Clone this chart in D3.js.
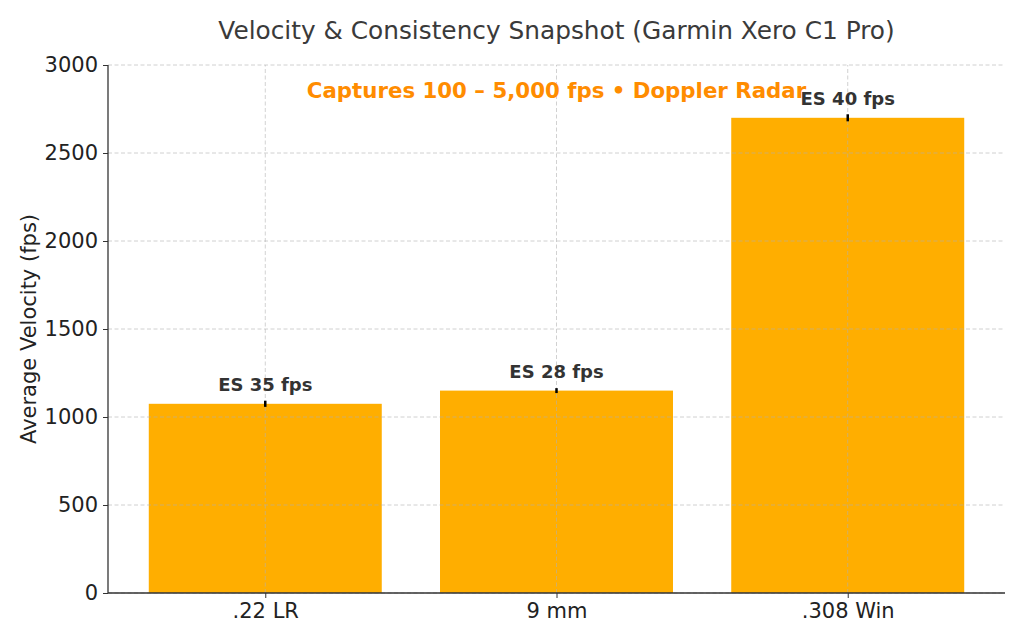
<!DOCTYPE html>
<html>
<head>
<meta charset="utf-8">
<script src="https://cdn.jsdelivr.net/npm/d3@7"></script>
<style>
  body { margin: 0; background: #fff; }
  text { font-family: "DejaVu Sans", sans-serif; }
</style>
</head>
<body>
<script>
// data
var calibers = [".22 LR", "9 mm", ".308 Win"];
var avgVelocity = [1075, 1150, 2700];
var extremeSpread = [35, 28, 40];
var yTicks = [0, 500, 1000, 1500, 2000, 2500, 3000];

var w = 1024, h = 640;
var margin = {top: 65, right: 19, bottom: 47, left: 108};

var svg = d3.select("body").append("svg")
    .attr("width", w)
    .attr("height", h);

var x = d3.scaleLinear()
    .domain([-0.54, 2.54])
    .range([margin.left, w - margin.right]);

var y = d3.scaleLinear()
    .domain([0, 3000])
    .range([h - margin.bottom, margin.top]);

var barW = x(0.8) - x(0);

// bars
svg.selectAll("rect.bar")
    .data(avgVelocity)
    .enter()
    .append("rect")
    .attr("class", "bar")
    .attr("x", function(d, i) { return x(i) - barW / 2; })
    .attr("y", function(d) { return y(d); })
    .attr("width", barW)
    .attr("height", function(d) { return y(0) - y(d); })
    .attr("fill", "#FFAE00");

// grid (dashed, on top of bars)
svg.append("g")
    .selectAll("line")
    .data(yTicks)
    .enter()
    .append("line")
    .attr("x1", margin.left)
    .attr("x2", w - margin.right)
    .attr("y1", function(d) { return y(d); })
    .attr("y2", function(d) { return y(d); })
    .attr("stroke", "#b0b0b0")
    .attr("stroke-opacity", 0.65)
    .attr("stroke-dasharray", "4,2.5")
    .attr("stroke-width", 0.9);

svg.append("g")
    .selectAll("line")
    .data(calibers)
    .enter()
    .append("line")
    .attr("x1", function(d, i) { return x(i); })
    .attr("x2", function(d, i) { return x(i); })
    .attr("y1", y(0))
    .attr("y2", y(3000))
    .attr("stroke", "#b0b0b0")
    .attr("stroke-opacity", 0.65)
    .attr("stroke-dasharray", "4,2.5")
    .attr("stroke-width", 0.9);

// error bars (+/- ES/2)
svg.selectAll("line.err")
    .data(avgVelocity)
    .enter()
    .append("line")
    .attr("class", "err")
    .attr("x1", function(d, i) { return x(i); })
    .attr("x2", function(d, i) { return x(i); })
    .attr("y1", function(d, i) { return y(d - extremeSpread[i] / 2); })
    .attr("y2", function(d, i) { return y(d + extremeSpread[i] / 2); })
    .attr("stroke", "#000")
    .attr("stroke-width", 2.5);

// ES labels
svg.selectAll("text.es")
    .data(avgVelocity)
    .enter()
    .append("text")
    .attr("class", "es")
    .attr("x", function(d, i) { return x(i); })
    .attr("y", function(d) { return y(d) - 13; })
    .attr("text-anchor", "middle")
    .attr("font-size", "18px")
    .attr("font-weight", "bold")
    .attr("fill", "#333")
    .text(function(d, i) { return "ES " + extremeSpread[i] + " fps"; });

// axes
var yAxis = d3.axisLeft(y).tickValues(yTicks).tickFormat(d3.format("d"))
    .tickSize(5).tickPadding(5);
var gy = svg.append("g")
    .attr("transform", "translate(" + margin.left + ",0)")
    .call(yAxis);

var xAxis = d3.axisBottom(x).tickValues([0, 1, 2])
    .tickFormat(function(d) { return calibers[d]; })
    .tickSize(5).tickPadding(5);
var gx = svg.append("g")
    .attr("transform", "translate(0," + (h - margin.bottom) + ")")
    .call(xAxis);

[gx, gy].forEach(function(g) {
    g.attr("font-size", null).attr("font-family", null);
    g.select(".domain").attr("stroke", "#333").attr("stroke-width", 1.3);
    g.selectAll(".tick line").attr("stroke", "#333").attr("stroke-width", 1);
    g.selectAll(".tick text")
        .style("font-size", "21px")
        .style("fill", "#222")
        .style("font-family", "DejaVu Sans, sans-serif");
});
gy.select(".domain").attr("d", "M0," + y(0) + "V" + y(3000));
gx.select(".domain").attr("d", "M" + margin.left + ",0H" + (w - margin.right));

// title
svg.append("text")
    .attr("x", (margin.left + w - margin.right) / 2)
    .attr("y", 39)
    .attr("text-anchor", "middle")
    .attr("font-size", "24.8px")
    .attr("fill", "#3a3a3a")
    .text("Velocity & Consistency Snapshot (Garmin Xero C1 Pro)");

// y label
svg.append("text")
    .attr("transform", "translate(36," + ((margin.top + h - margin.bottom) / 2) + ") rotate(-90)")
    .attr("text-anchor", "middle")
    .attr("font-size", "21px")
    .attr("fill", "#222")
    .text("Average Velocity (fps)");

// annotation
svg.append("text")
    .attr("x", (margin.left + w - margin.right) / 2)
    .attr("y", 98)
    .attr("text-anchor", "middle")
    .attr("font-size", "21.3px")
    .attr("font-weight", "bold")
    .attr("fill", "#FF8C00")
    .text("Captures 100 – 5,000 fps • Doppler Radar");
</script>
</body>
</html>
